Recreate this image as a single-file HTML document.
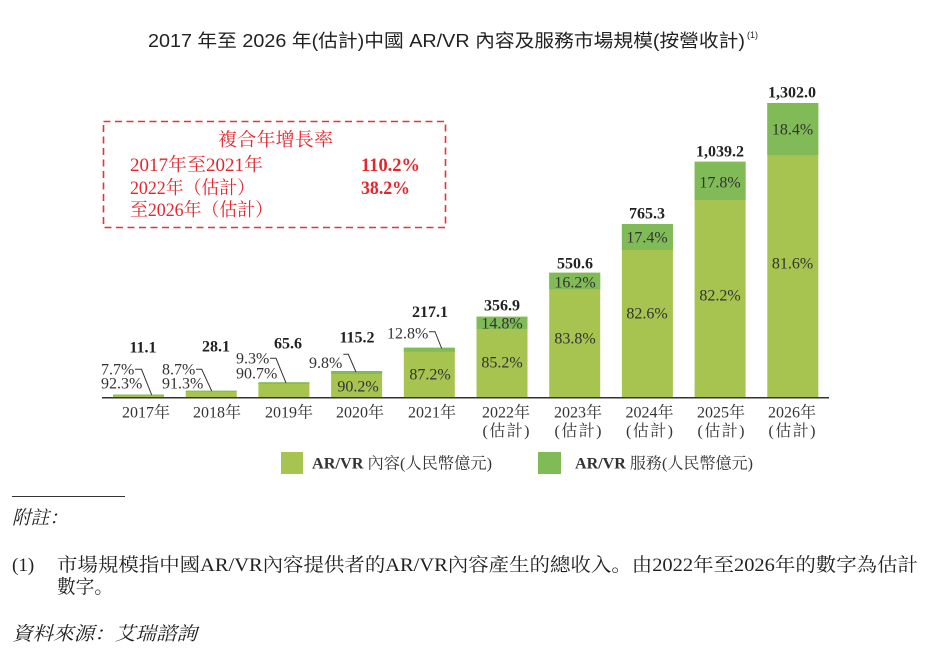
<!DOCTYPE html>
<html>
<head>
<meta charset="utf-8">
<style>
  html,body{margin:0;padding:0;background:#fff;}
  body{width:926px;height:649px;overflow:hidden;}
  svg{display:block;}
  .serif{font-family:"Liberation Serif","Noto Serif CJK SC",serif;}
  .sans{font-family:"Liberation Sans","Noto Sans CJK TC",sans-serif;}
</style>
</head>
<body>
<svg width="926" height="649" viewBox="0 0 926 649" xmlns="http://www.w3.org/2000/svg">
  <!-- Title -->
  <text class="sans" x="148" y="47" font-size="18" fill="#222" textLength="597" lengthAdjust="spacingAndGlyphs">2017 年至 2026 年(估計)中國 AR/VR 內容及服務市場規模(按營收計)</text>
  <text class="sans" x="747" y="38" font-size="9" fill="#222">(1)</text>

  <!-- CAGR box -->
  <rect x="103.5" y="121.5" width="342" height="106" fill="none" stroke="#e4333a" stroke-width="1.6" stroke-dasharray="7,4.5"/>
  <g class="serif" fill="#e4262d" font-size="18.5">
    <text x="218" y="146" textLength="115" lengthAdjust="spacingAndGlyphs">複合年增長率</text>
    <text x="130" y="171" textLength="133" lengthAdjust="spacingAndGlyphs">2017年至2021年</text>
    <text x="361" y="171" font-weight="bold" textLength="59" lengthAdjust="spacingAndGlyphs">110.2%</text>
    <text x="130" y="194" textLength="125" lengthAdjust="spacingAndGlyphs">2022年（估計）</text>
    <text x="361" y="194" font-weight="bold" textLength="49" lengthAdjust="spacingAndGlyphs">38.2%</text>
    <text x="130" y="216" textLength="143" lengthAdjust="spacingAndGlyphs">至2026年（估計）</text>
  </g>

  <!-- Bars -->
  <g>
    <rect x="113" y="394.5" width="51" height="2.5" fill="#a6c44f"/>
    <rect x="113" y="394.5" width="51" height="1" fill="#80bb57"/>

    <rect x="185.7" y="390.7" width="51" height="6.3" fill="#a6c44f"/>
    <rect x="185.7" y="390.7" width="51" height="1" fill="#80bb57"/>

    <rect x="258.4" y="382.3" width="51" height="14.7" fill="#a6c44f"/>
    <rect x="258.4" y="382.3" width="51" height="1.6" fill="#80bb57"/>

    <rect x="331.1" y="371" width="51" height="26" fill="#a6c44f"/>
    <rect x="331.1" y="371" width="51" height="3" fill="#80bb57"/>

    <rect x="403.8" y="347.7" width="51" height="49.3" fill="#a6c44f"/>
    <rect x="403.8" y="347.7" width="51" height="4" fill="#80bb57"/>

    <rect x="476.5" y="316.7" width="51" height="80.3" fill="#a6c44f"/>
    <rect x="476.5" y="316.7" width="51" height="12.3" fill="#80bb57"/>

    <rect x="549.2" y="272.7" width="51" height="124.3" fill="#a6c44f"/>
    <rect x="549.2" y="272.7" width="51" height="16.6" fill="#80bb57"/>

    <rect x="621.9" y="224" width="51" height="173" fill="#a6c44f"/>
    <rect x="621.9" y="224" width="51" height="26" fill="#80bb57"/>

    <rect x="694.6" y="161.7" width="51" height="235.3" fill="#a6c44f"/>
    <rect x="694.6" y="161.7" width="51" height="38.3" fill="#80bb57"/>

    <rect x="767.3" y="103" width="51" height="294" fill="#a6c44f"/>
    <rect x="767.3" y="103" width="51" height="52" fill="#80bb57"/>
  </g>

  <!-- Axis -->
  <line x1="102" y1="397.7" x2="829" y2="397.7" stroke="#333" stroke-width="1.5"/>

  <!-- Leader lines -->
  <g fill="none" stroke="#333" stroke-width="1">
    <polyline points="135,369.3 141.5,369.3 151.7,395"/>
    <polyline points="196,369.3 201.7,369.3 211.7,391"/>
    <polyline points="270,358.3 276,358.3 286,383"/>
    <polyline points="343.3,354.3 348.3,354.3 356,372"/>
    <polyline points="429,331.7 435,331.7 441.7,348.5"/>
  </g>

  <!-- Value labels -->
  <g class="serif" font-size="16" font-weight="bold" fill="#222" text-anchor="middle">
    <text x="143" y="352.5">11.1</text>
    <text x="216" y="351.5">28.1</text>
    <text x="288" y="348.5">65.6</text>
    <text x="357" y="342.5">115.2</text>
    <text x="430" y="317">217.1</text>
    <text x="502" y="310.5">356.9</text>
    <text x="575" y="268.5">550.6</text>
    <text x="647" y="218.5">765.3</text>
    <text x="720" y="156.5">1,039.2</text>
    <text x="792" y="97.5">1,302.0</text>
  </g>

  <!-- Percent labels -->
  <g class="serif" font-size="16" fill="#333">
    <text x="101" y="374.5">7.7%</text>
    <text x="101" y="388.5">92.3%</text>
    <text x="162" y="374.5">8.7%</text>
    <text x="162" y="388.5">91.3%</text>
    <text x="236" y="363.5">9.3%</text>
    <text x="236" y="378.5">90.7%</text>
    <text x="309" y="368">9.8%</text>
    <text x="387" y="338.5">12.8%</text>
  </g>
  <g class="serif" font-size="16" fill="#333" text-anchor="middle">
    <text x="358" y="391.5">90.2%</text>
    <text x="430" y="379.5">87.2%</text>
    <text x="502" y="328.5">14.8%</text>
    <text x="502" y="367.5">85.2%</text>
    <text x="575" y="287.5">16.2%</text>
    <text x="575" y="343.5">83.8%</text>
    <text x="647" y="242.5">17.4%</text>
    <text x="647" y="318.5">82.6%</text>
    <text x="720" y="187.5">17.8%</text>
    <text x="720" y="300.5">82.2%</text>
    <text x="792.5" y="134.5">18.4%</text>
    <text x="792.5" y="268.5">81.6%</text>
  </g>

  <!-- Year labels -->
  <g class="serif" font-size="16" fill="#333" text-anchor="middle">
    <text x="146" y="417.5">2017年</text>
    <text x="217" y="417.5">2018年</text>
    <text x="289" y="417.5">2019年</text>
    <text x="360" y="417.5">2020年</text>
    <text x="432" y="417.5">2021年</text>
    <text x="506" y="417.5">2022年</text>
    <text x="578" y="417.5">2023年</text>
    <text x="649.5" y="417.5">2024年</text>
    <text x="721" y="417.5">2025年</text>
    <text x="792" y="417.5">2026年</text>
    <text x="506" y="436" textLength="47">(估計)</text>
    <text x="578" y="436" textLength="47">(估計)</text>
    <text x="649.5" y="436" textLength="47">(估計)</text>
    <text x="721" y="436" textLength="47">(估計)</text>
    <text x="792" y="436" textLength="47">(估計)</text>
  </g>

  <!-- Legend -->
  <rect x="281" y="452" width="22" height="22" fill="#a6c44f"/>
  <text class="serif" x="312" y="468.5" font-size="16" fill="#333" textLength="180" lengthAdjust="spacingAndGlyphs"><tspan font-weight="bold">AR/VR</tspan> 內容(人民幣億元)</text>
  <rect x="538" y="452" width="23" height="22" fill="#80bb57"/>
  <text class="serif" x="575" y="468.5" font-size="16" fill="#333" textLength="178" lengthAdjust="spacingAndGlyphs"><tspan font-weight="bold">AR/VR</tspan> 服務(人民幣億元)</text>

  <!-- Footnotes -->
  <line x1="12" y1="496.5" x2="125" y2="496.5" stroke="#333" stroke-width="1"/>
  <g class="serif" font-size="19" fill="#222">
    <text x="12" y="524" font-style="italic" textLength="56" lengthAdjust="spacingAndGlyphs">附註：</text>
    <text x="12" y="571">(1)</text>
    <text x="57" y="571" textLength="861" lengthAdjust="spacingAndGlyphs">市場規模指中國AR/VR內容提供者的AR/VR內容產生的總收入。由2022年至2026年的數字為估計</text>
    <text x="57" y="593" textLength="56" lengthAdjust="spacingAndGlyphs">數字。</text>
    <text x="12" y="640" font-style="italic" textLength="185" lengthAdjust="spacingAndGlyphs">資料來源：艾瑞諮詢</text>
  </g>
</svg>
</body>
</html>
